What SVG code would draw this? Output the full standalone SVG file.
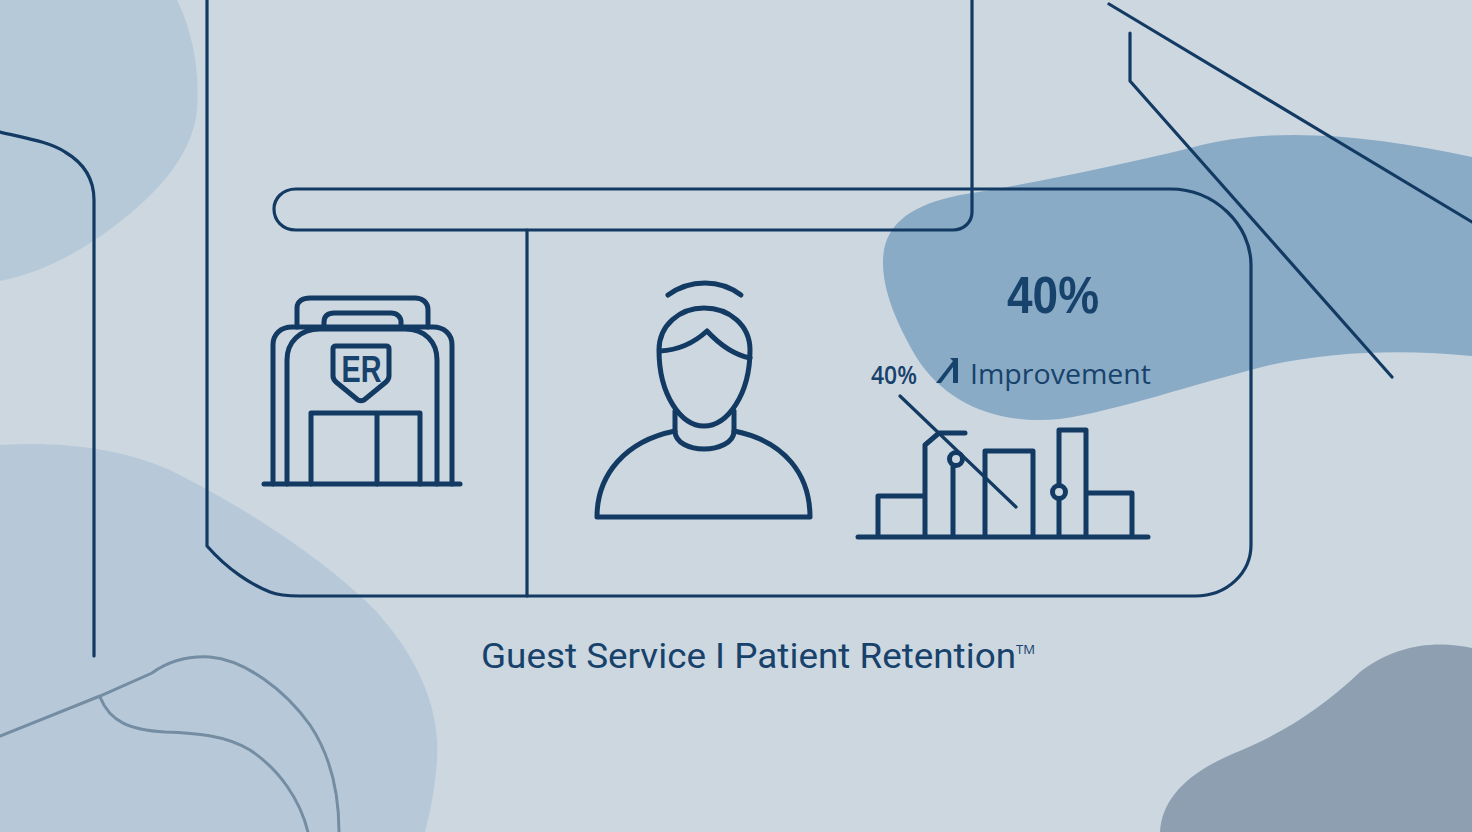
<svg xmlns="http://www.w3.org/2000/svg" width="1472" height="832" viewBox="0 0 1472 832">
<style>
.l{fill:none;stroke:#123a62;stroke-width:3.2;stroke-linecap:round;stroke-linejoin:round}
.i{fill:none;stroke:#123a62;stroke-width:5;stroke-linecap:round;stroke-linejoin:round}
.g{fill:none;stroke:#748da3;stroke-width:3;stroke-linecap:round}
text{font-family:"Open Sans","Liberation Sans",sans-serif;fill:#17426b}
</style>
<rect width="1472" height="832" fill="#cdd7e0"/>
<g id="blobs">
<path d="M0 0H177C192 30 200 70 197 110C192 160 150 200 105 233C70 258 35 274 0 281Z" fill="#b5c9d8"/>
<path d="M0 445C60 441 120 448 170 470C240 505 320 555 375 610C420 660 440 710 437 760C435 790 430 812 425 832H0Z" fill="#b7c9d8"/>
<path d="M883 262C883 225 910 205 960 195C1040 182 1120 165 1190 148C1270 125 1370 135 1472 157V356C1410 350 1340 350 1270 365C1190 385 1120 410 1060 419C1000 425 945 405 915 355C895 320 883 290 883 262Z" fill="#8aabc6"/>
<path d="M1160 832C1162 800 1185 775 1230 755C1280 735 1320 710 1360 672C1395 645 1435 640 1472 648V832Z" fill="#8d9fb0"/>
</g>
<g id="connectors">
<path class="l" d="M207 0V546C228 570 252 585 270 592C280 596 290 596 300 596H1195C1228 596 1251 572 1251 545V265C1251 225 1215 189 1170 189H296C282 189 274 199 274 209C274 220 282 230 296 230H953C964 230 972 222 972 212V0"/>
<path class="l" d="M527 230V596"/>
<path class="l" d="M1109 4L1472 222"/>
<path class="l" d="M1130 33V81L1392 377"/>
<path class="l" d="M0 132C25 138 50 142 65 152C82 162 94 178 94 200V656"/>
<path class="g" d="M0 736L100 696L152 673C170 660 190 656 210 657C245 660 285 690 310 725C330 755 339 790 339 832"/>
<path class="g" d="M100 697C110 722 130 730 165 732C195 733 225 735 250 750C280 770 300 800 308 832"/>
</g>
<g id="er-building">
<path class="i" d="M297 327V308C297 301 303 298 310 298H415C422 298 428 302 428 310V327"/>
<path class="i" d="M324 327V322C324 316 328 313 334 313H391C397 313 401 317 401 322V327"/>
<path class="i" d="M273 484V345C273 334 281 327 292 327H433C444 327 452 334 452 345V484"/>
<path class="i" d="M287 484V360C287 342 300 329 320 329H405C425 329 437 342 437 360V484"/>
<path class="i" d="M336 346H386C388 346 389 347 389 349V376C389 379 388 380 386 382L364 400C362 401 360 401 358 400L336 382C334 380 333 379 333 376V349C333 347 334 346 336 346Z" stroke-width="4"/>
<text x="361.500" y="382" font-size="37" font-weight="700" text-anchor="middle" textLength="40" lengthAdjust="spacingAndGlyphs" style="font-family:'Liberation Sans',sans-serif">ER</text>
<path class="i" d="M311 484V413H420V484M377 413V484"/>
<path class="i" d="M264 484H460"/>
</g>
<g id="person">
<path class="i" d="M668 295C690 279 720 279 741 295"/>
<path class="i" d="M659 350C659 325 680 308 704 308C729 308 750 325 750 350C750 395 727 426 704 426C681 426 659 395 659 350Z"/>
<path class="i" d="M660 351C680 350 695 342 707 331C720 345 735 355 750 358"/>
<path class="i" d="M675 411V431C675 443 690 449 704 449C718 449 734 443 734 431V411"/>
<path class="i" d="M675 431C625 441 597 475 597 517H810C810 475 785 441 734 431"/>
</g>
<g id="chart">
<path class="i" d="M878 536V496H924M925 536V445L939 433H965M953 467V536M985 536V451H1033V536M1059 484V430H1086V536M1059 499V536M1086 493H1132V536"/>
<path class="l" d="M900 396L1016 507" stroke-width="3.600"/>
<circle class="i" cx="956" cy="459" r="6.500" fill="#cdd7e0" stroke-width="4.500"/>
<circle class="i" cx="1059" cy="492" r="6.500" fill="#cdd7e0" stroke-width="4.500"/>
<path class="i" d="M858 537H1148"/>
</g>
<g id="labels">
<text x="1053" y="313" font-size="52" font-weight="700" text-anchor="middle" textLength="92" lengthAdjust="spacingAndGlyphs" style="font-family:'Liberation Sans',sans-serif">40%</text>
<text x="894" y="384" font-size="25" text-anchor="middle" textLength="46" lengthAdjust="spacingAndGlyphs" font-weight="600">40%</text>
<path d="M936 383L953 361L950 358H958V383H953V367L941 383Z" fill="#17426b"/>
<text x="970" y="384" font-size="28" textLength="181" lengthAdjust="spacingAndGlyphs">Improvement</text>
<text x="481" y="668" font-size="35" textLength="535" lengthAdjust="spacingAndGlyphs" style="font-family:Roboto,'Liberation Sans',sans-serif">Guest Service I Patient Retention</text>
<text x="1016" y="654" font-size="13" textLength="19" lengthAdjust="spacingAndGlyphs">TM</text>
</g>
</svg>
